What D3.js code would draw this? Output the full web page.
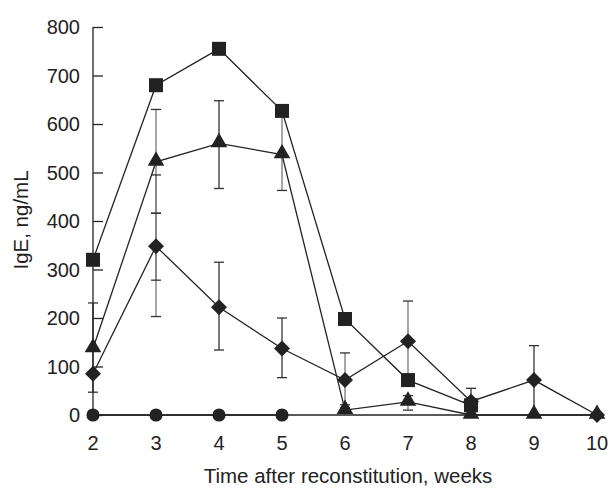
<!DOCTYPE html>
<html><head><meta charset="utf-8">
<script src="https://cdn.jsdelivr.net/npm/d3@7"></script>
<style>body{margin:0;background:#fff}svg{display:block}text{font-family:"Liberation Sans",Arial,sans-serif;fill:#222}</style>
</head><body>
<svg id="c" width="615" height="489"></svg>
<script>
const weeks = [2, 3, 4, 5, 6, 7, 8, 9, 10];
const squareVals   = [320, 680, 755, 627, 198, 72, 20, null, null];
const triangleVals = [137, 522, 560, 537, 10, 27, 0, 0, 0];
const diamondVals  = [85, 348, 222, 137, 72, 152, 28, 72, 0];
const circleVals   = [0, 0, 0, 0, null, null, null, null, null];
// error bars: week, low, high
const errWeek = [2, 3, 4, 5, 6, 7, 3, 3, 4, 5, 6, 7, 8, 9];
const errLow  = [47, 416, 467, 463, 0, 10, 203, 278, 134, 77, 15, 68, 0, 0];
const errHigh = [231, 630, 648, 620, 21, 40, 495, 416, 315, 200, 128, 235, 55, 143];
const errGray = [0, 1, 0, 1, 1, 1, 1, 1, 0, 0, 1, 1, 0, 0];
const yTicks = [0, 100, 200, 300, 400, 500, 600, 700, 800];
const xTicks = [2, 3, 4, 5, 6, 7, 8, 9, 10];

const svg = d3.select('#c');
const x = d3.scaleLinear().domain([2, 10]).range([93, 597]);
const y = d3.scaleLinear().domain([0, 800]).range([415, 27]);
const ink = '#222';

// error bars
const eb = svg.append('g');
errWeek.forEach((w, i) => {
  const col = errGray[i] ? '#777' : '#333';
  const g = eb.append('g').attr('stroke', col).attr('stroke-width', 1.3);
  g.append('line').attr('x1', x(w)).attr('x2', x(w)).attr('y1', y(errLow[i])).attr('y2', y(errHigh[i]));
  [errLow[i], errHigh[i]].forEach(v => {
    if (v > 0) g.append('line').attr('stroke', '#333').attr('x1', x(w) - 5).attr('x2', x(w) + 5).attr('y1', y(v)).attr('y2', y(v));
  });
});

// axes
const yAxis = d3.axisRight(y).tickValues(yTicks).tickSize(10).tickFormat('');
const ya = svg.append('g').attr('transform', `translate(${x(2)},0)`).call(yAxis);
ya.select('.domain').remove();
ya.selectAll('line').attr('stroke', ink).attr('stroke-width', 1.3);
svg.append('line').attr('x1', x(2)).attr('x2', x(2)).attr('y1', y(800)).attr('y2', y(0)).attr('stroke', ink).attr('stroke-width', 1.3);
svg.append('line').attr('x1', x(2)).attr('x2', x(10) + 4).attr('y1', y(0)).attr('y2', y(0)).attr('stroke', ink).attr('stroke-width', 1.3);

svg.append('g').selectAll('text').data(yTicks).join('text')
  .attr('x', 80).attr('y', d => y(d)).attr('dy', '0.36em').attr('text-anchor', 'end')
  .attr('font-size', 20).text(d => d);
svg.append('g').selectAll('text').data(xTicks).join('text')
  .attr('x', d => x(d)).attr('y', 450).attr('text-anchor', 'middle')
  .attr('font-size', 20).text(d => d);

svg.append('text').attr('x', 348).attr('y', 483).attr('text-anchor', 'middle').attr('font-size', 20.5)
  .text('Time after reconstitution, weeks');
svg.append('text').attr('transform', `translate(28,220) rotate(-90)`).attr('text-anchor', 'middle').attr('font-size', 20.5)
  .text('IgE, ng/mL');

// series
const series = [
  { vals: circleVals, sym: d3.symbolCircle, size: 135 },
  { vals: diamondVals, sym: 'diamond', size: 0 },
  { vals: triangleVals, sym: d3.symbolTriangle, size: 120 },
  { vals: squareVals, sym: d3.symbolSquare, size: 196 }
];
const line = d3.line().defined(d => d.v !== null).x(d => x(d.w)).y(d => y(d.v));
series.forEach(s => {
  const pts = weeks.map((w, i) => ({ w, v: s.vals[i] }));
  svg.append('path').datum(pts).attr('d', line).attr('fill', 'none').attr('stroke', ink).attr('stroke-width', 1.3);
});
series.forEach(s => {
  const pts = weeks.map((w, i) => ({ w, v: s.vals[i] })).filter(d => d.v !== null);
  const g = svg.append('g');
  pts.forEach(d => {
    if (s.sym === 'diamond') {
      g.append('path').attr('d', 'M0,-8L8,0L0,8L-8,0Z').attr('transform', `translate(${x(d.w)},${y(d.v)})`).attr('fill', ink);
    } else {
      const dy = s.sym === d3.symbolTriangle ? -1 : 0;
      g.append('path').attr('d', d3.symbol(s.sym, s.size)()).attr('transform', `translate(${x(d.w)},${y(d.v) + dy})`).attr('fill', ink);
    }
  });
});
</script>
</body></html>
